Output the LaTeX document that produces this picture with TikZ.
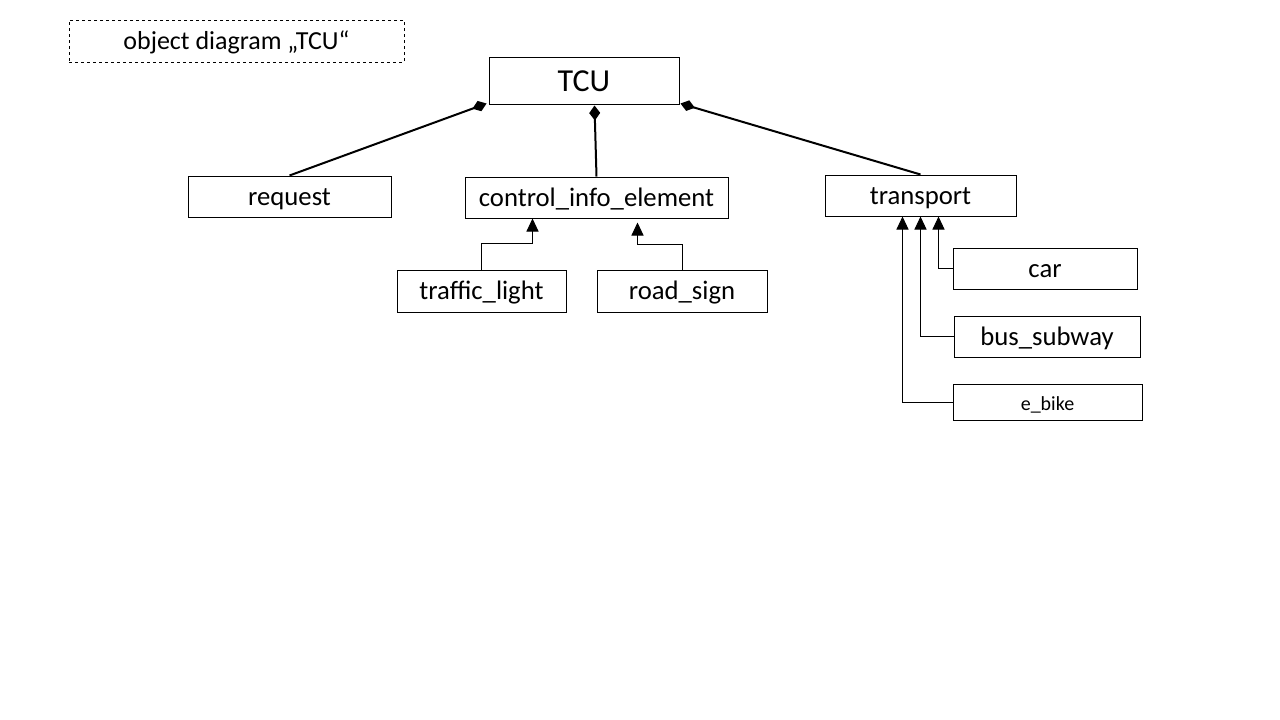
\documentclass[tikz,border=0pt]{standalone}
\usepackage{fontspec}
\setmainfont{Carlito}
\usetikzlibrary{arrows.meta,calc}
\begin{document}
\begin{tikzpicture}[x=1pt,y=-1pt,
  box/.style={draw=black,line width=1pt,inner sep=0pt,text height=21pt,text depth=4pt,font=\fontsize{26.7}{30}\selectfont},
  comp/.style={line width=2pt,-{Diamond[length=15pt,width=11pt]}},
  inh/.style={line width=1pt,-{Triangle[length=13pt,width=12pt]}}]
\useasboundingbox (0,0) rectangle (1280,720);
\fill[white] (0,0) rectangle (1280,720);
\node[box,dashed,minimum width=335pt,minimum height=42pt,font=\fontsize{26}{30}\selectfont] (title) at (236.5,41) {object diagram „TCU“};
\node[box,minimum width=190pt,minimum height=47pt,text height=26pt,text depth=4pt,font=\fontsize{32}{36}\selectfont] (tcu) at (584,80.5) {TCU};
\node[box,minimum width=203pt,minimum height=41pt] (req) at (289.5,196.5) {request};
\node[box,minimum width=263pt,minimum height=41pt] (cie) at (596.5,197.5) {control\_info\_element};
\node[box,minimum width=191pt,minimum height=41pt] (tr) at (920.5,195.5) {transport};
\node[box,minimum width=169pt,minimum height=42pt] (tl) at (481.5,291) {traffic\_light};
\node[box,minimum width=170pt,minimum height=42pt] (rs) at (682,291) {road\_sign};
\node[box,minimum width=184pt,minimum height=41pt] (car) at (1045,268.5) {car};
\node[box,minimum width=186pt,minimum height=41pt] (bus) at (1047,336.5) {bus\_subway};
\node[box,minimum width=189pt,minimum height=36pt,text height=18pt,text depth=2pt,font=\fontsize{20}{24}\selectfont] (eb) at (1047.5,402) {e\_bike};
% composition
\draw[comp] (req.north) -- ($(tcu.south west)+(-2,-1)$);
\draw[comp] (cie.north) -- ($(tcu.south west)+(106,1)$);
\draw[comp] (tr.north) -- ($(tcu.south east)+(1,-1)$);
% inheritance
\draw[inh] (tl.north) -- ++(0,-26) -| ($(cie.south west)+(68,0)$);
\draw[inh] (rs.north) -- ++(0,-25) -| ($(cie.south west)+(173,4)$);
\draw[inh] (car.west) -| ($(tr.south west)+(114,0)$);
\draw[inh] (bus.west) -| ($(tr.south west)+(96,0)$);
\draw[inh] (eb.west) -| ($(tr.south west)+(78,0)$);
\end{tikzpicture}
\end{document}
